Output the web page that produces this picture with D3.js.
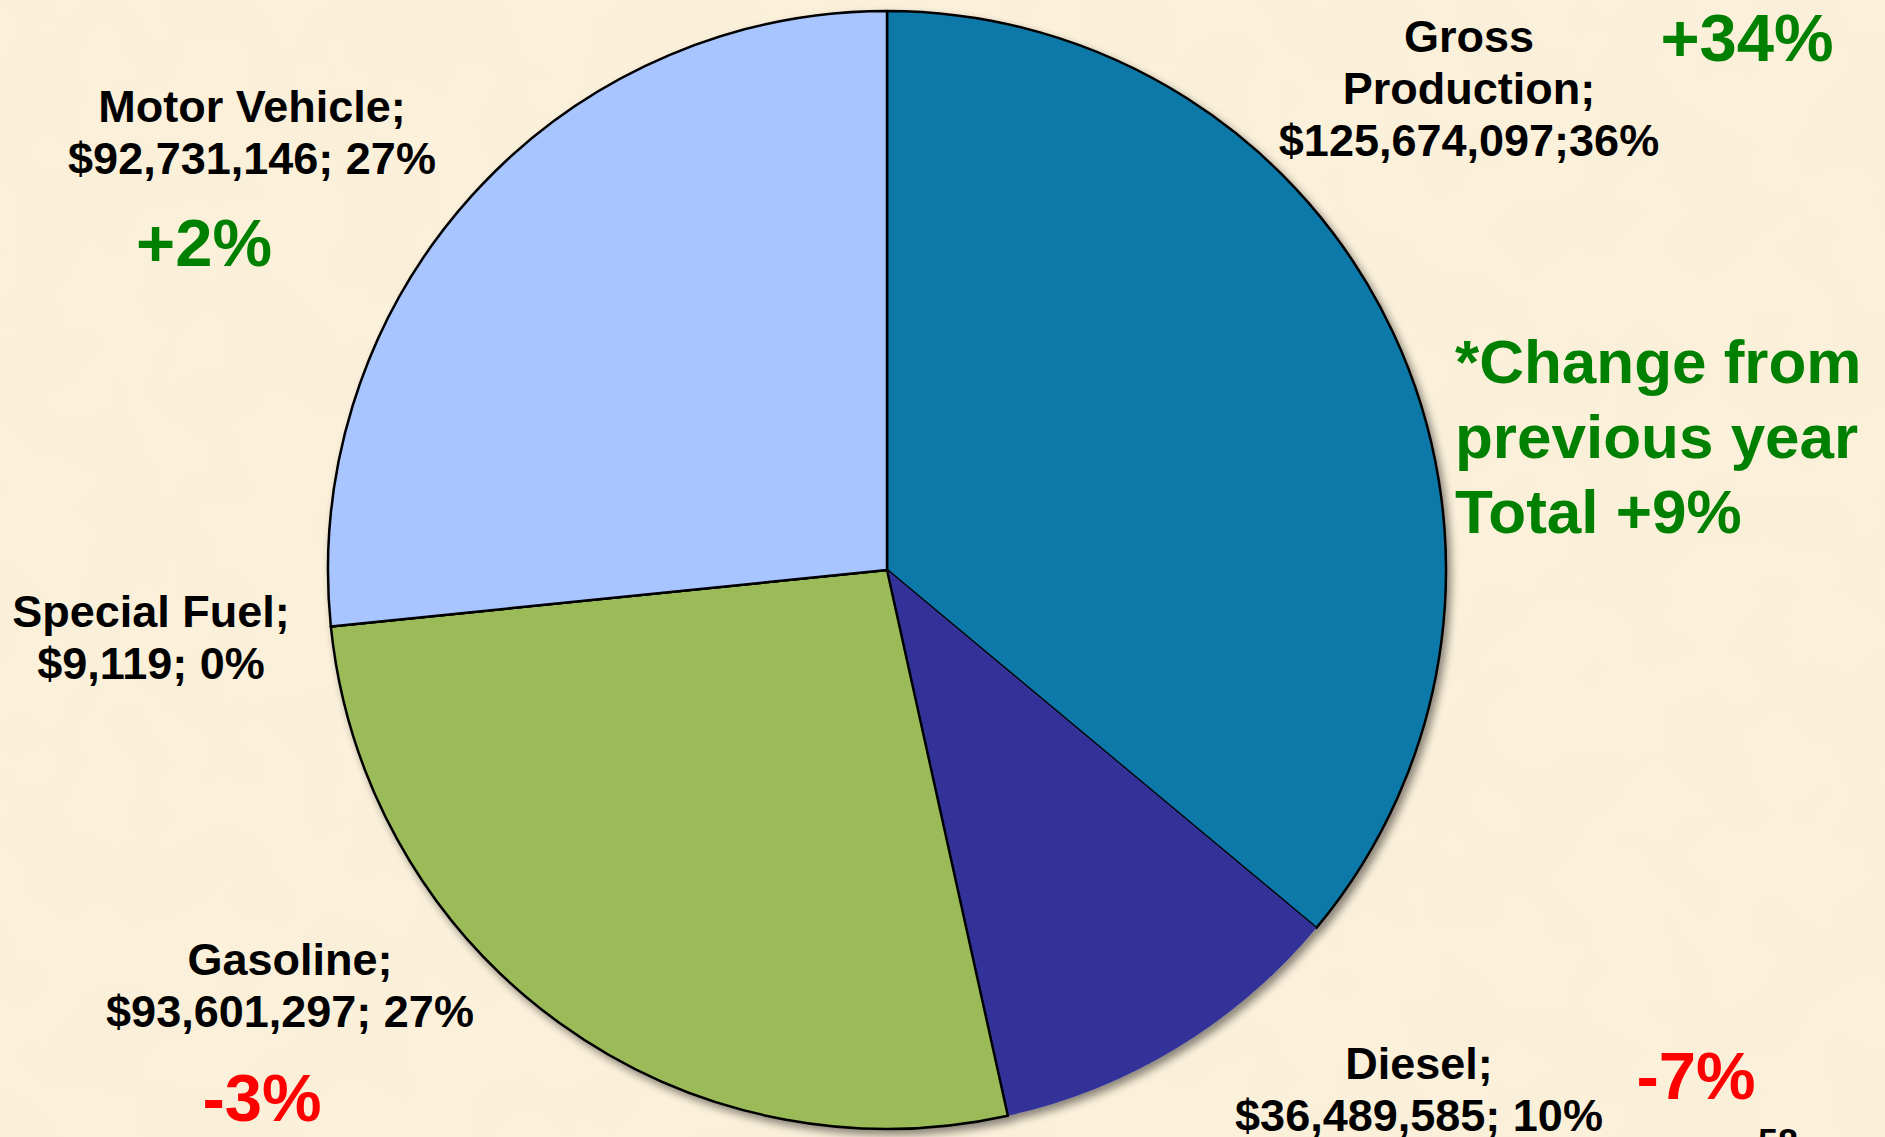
<!DOCTYPE html>
<html>
<head>
<meta charset="utf-8">
<script src="https://cdn.jsdelivr.net/npm/d3@7"></script>
<style>
  html, body { margin: 0; padding: 0; background: #faf0d8; }
  svg { display: block; }
  text { font-family: "Liberation Sans", Arial, sans-serif; font-weight: bold; }
</style>
</head>
<body>
<svg id="chart"></svg>
<script>
const width = 1885,
  height = 1137;

// slice data, clockwise from 12 o'clock
const categories = ["Gross Production", "Diesel", "Gasoline", "Special Fuel", "Motor Vehicle"];
const amounts = [125674097, 36489585, 93601297, 9119, 92731146];
const shares = ["36%", "10%", "27%", "0%", "27%"];
const colors = ["#0b79a9", "#333399", "#9bbb59", "#ffff99", "#a8c5ff"];
const strokes = ["#000", "none", "#000", "#000", "#000"];

// label text and placement
const labelLines = [
  ["Gross", "Production;", "$125,674,097;36%"],
  ["Diesel;", "$36,489,585; 10%"],
  ["Gasoline;", "$93,601,297; 27%"],
  ["Special Fuel;", "$9,119; 0%"],
  ["Motor Vehicle;", "$92,731,146; 27%"]
];
const labelPos = [[1469, 52], [1419, 1079], [290, 975], [151, 627], [252, 122]];

// change from previous year
const changes = ["+34%", "-7%", "-3%", null, "+2%"];
const changePos = [[1747, 61], [1696, 1099], [262, 1121], null, [204, 266]];
const noteLines = ["*Change from", "previous year", "Total +9%"];

const cx = 887, cy = 570, radius = 559;

const svg = d3.select("#chart")
  .attr("width", width)
  .attr("height", height);

const defs = svg.append("defs");

// faint paper texture for the slide background
const paper = defs.append("filter").attr("id", "paper")
  .attr("x", 0).attr("y", 0).attr("width", "100%").attr("height", "100%");
paper.append("feTurbulence").attr("type", "fractalNoise")
  .attr("baseFrequency", 0.012).attr("numOctaves", 2).attr("seed", 3).attr("result", "noise");
paper.append("feColorMatrix").attr("in", "noise").attr("type", "matrix")
  .attr("values", "0 0 0 0 0.85  0 0 0 0 0.80  0 0 0 0 0.65  0 0 0 0.10 0")
  .attr("result", "tint");
paper.append("feComposite").attr("in", "tint").attr("in2", "SourceGraphic").attr("operator", "atop");

const shadow = defs.append("filter")
  .attr("id", "shadow")
  .attr("x", "-10%").attr("y", "-10%")
  .attr("width", "120%").attr("height", "120%");
shadow.append("feGaussianBlur").attr("in", "SourceAlpha").attr("stdDeviation", 4).attr("result", "blur");
shadow.append("feOffset").attr("in", "blur").attr("dx", 4).attr("dy", 5).attr("result", "off");
shadow.append("feComponentTransfer").attr("in", "off").attr("result", "soft")
  .append("feFuncA").attr("type", "linear").attr("slope", 0.45);
const merge = shadow.append("feMerge");
merge.append("feMergeNode").attr("in", "soft");
merge.append("feMergeNode").attr("in", "SourceGraphic");

svg.append("rect")
  .attr("width", width)
  .attr("height", height)
  .attr("fill", "#fbf1da")
  .attr("filter", "url(#paper)");

const pie = d3.pie().sort(null).value(d => d);
const arc = d3.arc().innerRadius(0).outerRadius(radius);

const g = svg.append("g")
  .attr("transform", `translate(${cx},${cy})`)
  .attr("filter", "url(#shadow)");

g.selectAll("path.slice")
  .data(pie(amounts))
  .join("path")
  .attr("class", "slice")
  .attr("d", arc)
  .attr("fill", (d, i) => colors[i])
  .attr("stroke", (d, i) => strokes[i])
  .attr("stroke-width", 2.5)
  .attr("stroke-linejoin", "round");

// category labels
const lineH = 52;
categories.forEach((c, i) => {
  const t = svg.append("text")
    .attr("text-anchor", "middle")
    .attr("font-size", 45)
    .attr("fill", "#000");
  labelLines[i].forEach((s, j) => {
    t.append("tspan")
      .attr("x", labelPos[i][0])
      .attr("y", labelPos[i][1] + j * lineH)
      .text(s);
  });
});

// change labels
changes.forEach((c, i) => {
  if (!c) return;
  svg.append("text")
    .attr("x", changePos[i][0])
    .attr("y", changePos[i][1])
    .attr("text-anchor", "middle")
    .attr("font-size", 67)
    .attr("fill", c[0] === "+" ? "#008000" : "#ff0000")
    .text(c);
});

const note = svg.append("text")
  .attr("font-size", 62)
  .attr("fill", "#008000");
noteLines.forEach((s, j) => {
  note.append("tspan")
    .attr("x", 1455)
    .attr("y", 383 + j * 75)
    .text(s);
});

// slide number, cut off at the bottom
svg.append("text")
  .attr("x", 1778)
  .attr("y", 1155)
  .attr("text-anchor", "middle")
  .attr("font-size", 36)
  .attr("fill", "#000")
  .text("58");
</script>
</body>
</html>
